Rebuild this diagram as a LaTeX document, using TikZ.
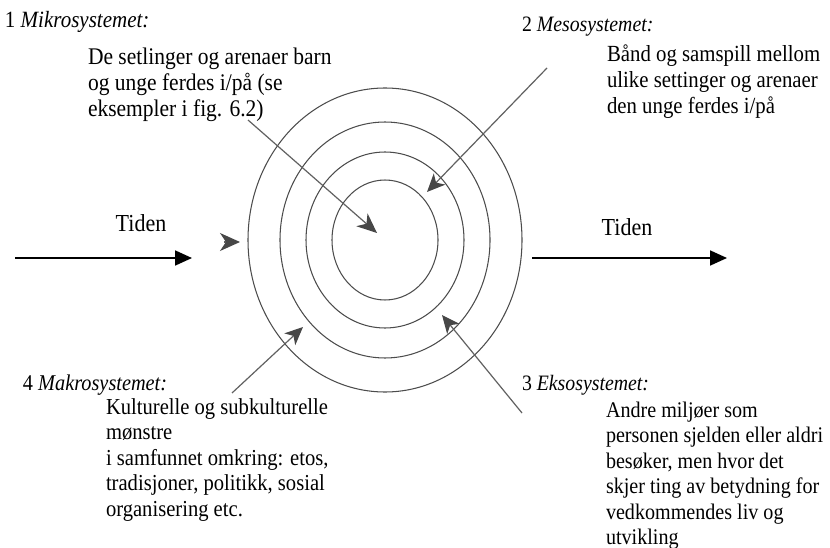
\documentclass[tikz,border=0pt]{standalone}
\usepackage{fontspec}
\setmainfont{Liberation Serif}
\usetikzlibrary{arrows.meta}
\newcommand{\tb}[2][21.5]{\scalebox{1}[1.11]{\fontsize{#1}{23}\selectfont\begin{tabular}[t]{@{}l@{}}#2\end{tabular}}}
\begin{document}
\begin{tikzpicture}[x=1pt,y=-1pt,
  txt/.style={anchor=base west,inner sep=0pt,outer sep=0pt},
  lbl/.style={anchor=base,inner sep=0pt,outer sep=0pt},
  ring/.style={draw=black!70,line width=1.05pt},
  pointer/.style={draw=black!62,line width=1.2pt,
    -{Stealth[length=20pt,width=17pt,inset=6pt,fill=black!72,color=black!72]}},
  smallhead/.style={-{Stealth[length=18pt,width=16pt,inset=5pt,fill=black!72,color=black!72]}},
  timearrow/.style={draw=black,line width=1.8pt,-{Triangle[length=17pt,width=15pt]}}]
\useasboundingbox (0,0) rectangle (830,548);
\fill[white] (0,0) rectangle (830,548);

% rings
\coordinate (c) at (385,240);
\draw[ring] (c) ellipse [x radius=53pt, y radius=60pt];
\draw[ring] (c) ellipse [x radius=79pt, y radius=88pt];
\draw[ring] (c) ellipse [x radius=105pt, y radius=118pt];
\draw[ring] (c) ellipse [x radius=137pt, y radius=152pt];

% texts
\node[txt] (h1) at (5,28) {\tb[21]{1 \textit{Mikrosystemet:}}};
\node[txt] (b1) at (88,65) {\tb[21.5]{De setlinger og arenaer barn\\og unge ferdes i/på (se\\eksempler i fig. 6.2)}};
\node[txt] (h2) at (522,32) {\tb[19.8]{2 \textit{Mesosystemet:}}};
\node[txt] (b2) at (607,62) {\tb[20.8]{Bånd og samspill mellom\\ulike settinger og arenaer\\den unge ferdes i/på}};
\node[txt] (h4) at (23,390) {\tb[20.3]{4 \textit{Makrosystemet:}}};
\node[txt] (b4) at (106,414) {\tb[20.6]{Kulturelle og subkulturelle\\mønstre\\i samfunnet omkring: etos,\\tradisjoner, politikk, sosial\\organisering etc.}};
\node[txt] (h3) at (522,390) {\tb[19.8]{3 \textit{Eksosystemet:}}};
\node[txt] (b3) at (606,417) {\tb[20.1]{Andre miljøer som\\personen sjelden eller aldri\\besøker, men hvor det\\skjer ting av betydning for\\vedkommendes liv og\\utvikling}};
\node[lbl] (t1) at (141,232) {\tb[22]{Tiden}};
\node[lbl] (t2) at (627,236) {\tb[22]{Tiden}};

% pointer ends
\coordinate (m1) at (248,120);  \coordinate (m2) at (377,233);
\coordinate (s1) at (547,68);   \coordinate (s2) at (427,192);
\coordinate (k1) at (232,393);  \coordinate (k2) at (303,327);
\coordinate (e1) at (522,413);  \coordinate (e2) at (442,315);
\coordinate (a1) at (224,242);  \coordinate (a2) at (240,242);
\draw[pointer] (m1) -- (m2);
\draw[pointer,smallhead] (s1) -- (s2);
\draw[pointer,smallhead] (k1) -- (k2);
\draw[pointer,smallhead] (e1) -- (e2);
\draw[pointer,-{Stealth[length=20pt,width=18pt,inset=6pt,fill=black!72,color=black!72]}] (a1) -- (a2);

% time arrows
\coordinate (l1) at (15,258);  \coordinate (l2) at (192,258);
\coordinate (r1) at (532,258); \coordinate (r2) at (727,258);
\draw[timearrow] (l1) -- (l2);
\draw[timearrow] (r1) -- (r2);
\end{tikzpicture}
\end{document}
